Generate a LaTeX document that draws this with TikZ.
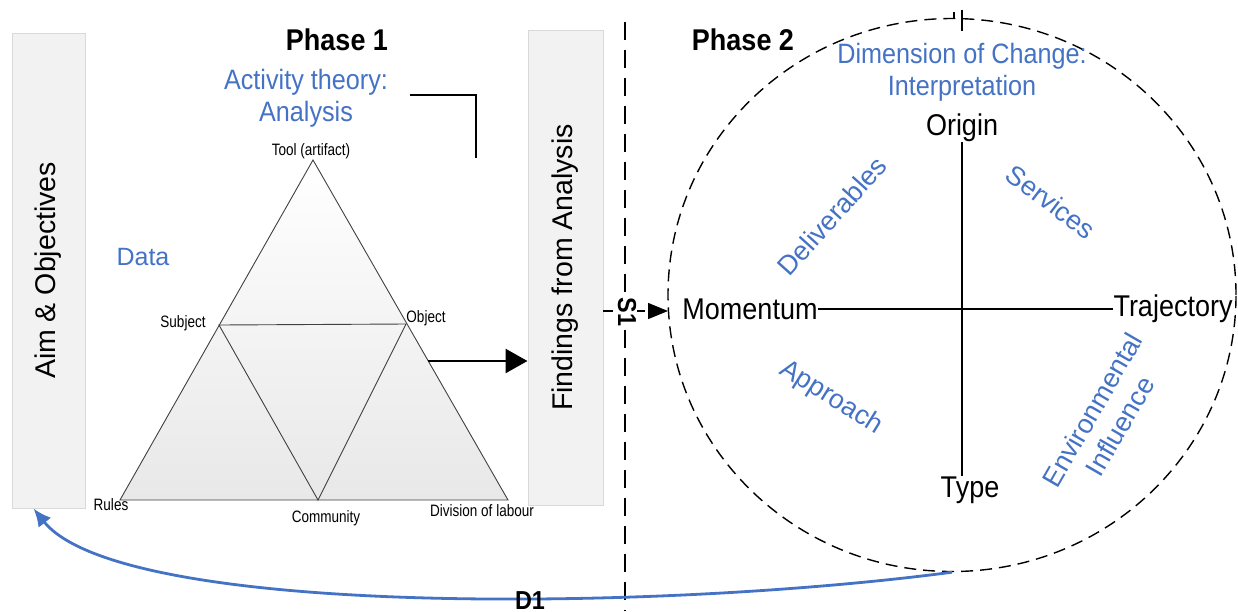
\documentclass[tikz,border=0pt]{standalone}
\usepackage{fontspec}
\setmainfont{Liberation Sans}
\newfontfamily\narrowf[FakeStretch=0.9]{Liberation Sans}
\newfontfamily\slimf[FakeStretch=0.82]{Liberation Sans}
\usetikzlibrary{arrows.meta,shapes.geometric}
\definecolor{accblue}{HTML}{4472C4}
\definecolor{boxfill}{HTML}{F2F2F2}
\definecolor{boxline}{HTML}{D9D9D9}
\tikzset{
  sidebox/.style={draw=boxline, fill=boxfill, line width=1pt, inner sep=0pt, rotate=90,
    font=\fontsize{28.5}{30}\selectfont},
  phase/.style={font=\narrowf\bfseries\fontsize{30}{32}\selectfont, inner sep=0pt},
  head/.style={text=accblue, align=center, inner sep=0pt, font=\narrowf\fontsize{28}{32}\selectfont},
  vlabel/.style={font=\slimf\fontsize{16.5}{18}\selectfont, inner sep=0pt},
  axislabel/.style={font=\narrowf\fontsize{30}{32}\selectfont, inner sep=0pt},
  quad/.style={text=accblue, align=center, inner sep=0pt, font=\fontsize{27}{32}\selectfont},
  tri/.style={draw=black!75, line width=0.9pt},
  bigarrow/.style={line width=2.6pt, -{Triangle[length=22pt,width=24pt]}},
  dashline/.style={line width=1.5pt, dash pattern=on 18pt off 10pt},
  bluecurve/.style={draw=accblue, line width=2.8pt, -{Latex[length=18pt,width=16pt]}},
  tag/.style={font=\narrowf\bfseries\fontsize{26}{28}\selectfont, inner sep=1pt, fill=white}
}
\begin{document}
\begin{tikzpicture}[x=1pt,y=-1pt]
\useasboundingbox (0,0) rectangle (1238,611);

% side boxes
\node[sidebox, minimum width=475pt, minimum height=73pt] (aim) at (48.5,270.5) {Aim \& Objectives};
\node[sidebox, minimum width=475pt, minimum height=75pt] (findings) at (565.5,267.5) {Findings from Analysis};

% phase 1 texts
\node[phase] (phase1) at (337,40) {Phase 1};
\node[head] (activity) at (306,98) {Activity theory:\\Analysis};
\node[text=accblue, inner sep=0pt, font=\fontsize{25}{28}\selectfont] (data) at (143,257) {Data};

% bracket line
\coordinate (brA) at (410,95);
\coordinate (brB) at (476,95);
\coordinate (brC) at (476,158);
\draw[line width=1.8pt] (brA) -- (brB) -- (brC);

% triangle
\coordinate (tool) at (313,160);
\coordinate (rulesP) at (120,500);
\coordinate (divP) at (508,500);
\coordinate (subjP) at (219,325);
\coordinate (objP) at (406,324);
\coordinate (commP) at (318,500);
\shade[top color=white, bottom color=black!9] (tool) -- (rulesP) -- (divP) -- cycle;
\draw[tri] (tool) -- (rulesP) -- (divP) -- cycle;
\draw[tri] (subjP) -- (objP) -- (commP) -- cycle;

\node[vlabel] (ltool) at (311,151) {Tool (artifact)};
\node[vlabel] (lsubj) at (183,323) {Subject};
\node[vlabel] (lobj) at (426,318) {Object};
\node[vlabel] (lrules) at (111,505) {Rules};
\node[vlabel] (lcomm) at (326,518) {Community};
\node[vlabel] (ldiv) at (482,511) {Division of labour};

% arrow to findings
\coordinate (arrstart) at (428,361);
\draw[bigarrow] (arrstart) -- (findings.north |- arrstart);

% separator
\coordinate (sepTop) at (625,22);
\coordinate (sepBot) at (625,611);
\draw[dashline] (sepTop) -- (sepBot);

% phase 2
\node[phase] (phase2) at (743,40) {Phase 2};
\node[ellipse, draw, line width=1.4pt, dash pattern=on 12pt off 7pt, minimum width=568pt, minimum height=553pt, inner sep=0pt] (circ) at (952,295) {};
\coordinate (tk1) at (962,10);
\coordinate (tk2) at (962,31);
\coordinate (tk3) at (954,12);
\coordinate (tk4) at (954,19);
\draw[line width=1.4pt] (tk1) -- (tk2);
\draw[line width=1.4pt] (tk3) -- (tk4);

\node[head] (dimension) at (962,72) {Dimension of Change:\\Interpretation};

\node[axislabel] (origin) at (962,128) {Origin};
\node[axislabel] (type) at (970,490) {Type};
\node[axislabel] (momentum) at (750,309) {Momentum};
\node[axislabel] (trajectory) at (1173,309) {Trajectory};
\draw[line width=1.6pt] (origin.south) -- (origin.south |- type.north);
\draw[line width=1.6pt] (momentum.east) -- (trajectory.west);

\node[quad, rotate=48] (deliv) at (832,216) {Deliverables};
\node[quad, rotate=-37] (serv) at (1051,202) {Services};
\node[quad, rotate=-32] (appr) at (831,398) {Approach};
\node[quad, rotate=60] (envi) at (1106,418) {Environmental\\Influence};

% S1 connector
\coordinate (s1start) at (603,311);
\coordinate (s1end) at (668,311);
\draw[line width=1.4pt, dash pattern=on 10pt off 6pt, -{Triangle[length=20pt,width=16pt]}] (s1start) -- (s1end);
\node[tag, rotate=-90] (s1) at (627,312) {S1};

% D1 feedback curve
\draw[bluecurve] (circ.south) .. controls (650,612) and (120,617) .. ([xshift=-15pt]aim.west);
\node[font=\narrowf\bfseries\fontsize{26}{28}\selectfont, inner sep=0pt] (d1) at (530,601) {D1};
\end{tikzpicture}
\end{document}
